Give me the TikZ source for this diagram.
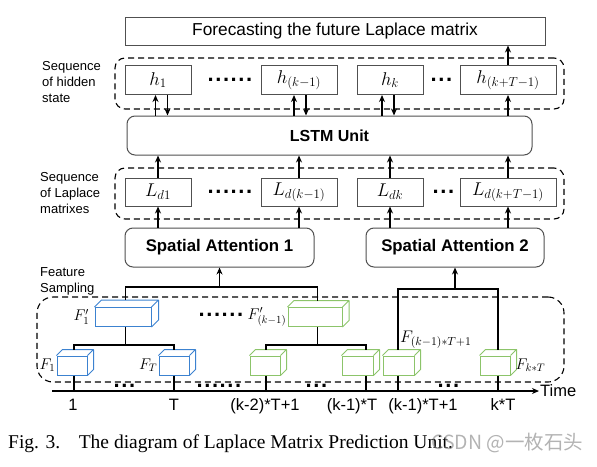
\documentclass[tikz,border=0pt]{standalone}
\usepackage{fix-cm}
\usepackage{fontspec}
\setmainfont{Liberation Serif}
\setsansfont{Liberation Sans}
\newfontfamily\cjkfont{Noto Sans CJK SC}
\usetikzlibrary{arrows.meta}
\definecolor{boxgray}{HTML}{505050}
\definecolor{cblue}{HTML}{3C82D0}
\definecolor{cgreen}{HTML}{8CC46A}
\newcommand{\dotsix}{.\kern1.6pt.\kern1.6pt.\kern1.6pt.\kern1.6pt.\kern1.6pt.}
\newcommand{\dotthree}{.\kern1.6pt.\kern1.6pt.}
% name, cx, cy, w, h, colour, depth
\newcommand{\cuboid}[7]{%
  \node[cubef, draw=#6, minimum width=#4pt, minimum height=#5pt] (#1) at (#2,#3) {};
  \draw[#6, line width=1pt, line join=round]
    (#1.north west) -- ++(#7pt,#7pt) -- ([shift={(#7pt,#7pt)}]#1.north east)
    -- ([shift={(#7pt,#7pt)}]#1.south east) -- (#1.south east)
    (#1.north east) -- ([shift={(#7pt,#7pt)}]#1.north east);
}
\begin{document}
\begin{tikzpicture}[x=1pt,y=-1pt, font=\sffamily,
  box/.style={draw=boxgray, line width=1pt, inner sep=0pt},
  rbox/.style={box, rounded corners=8pt},
  seqbox/.style={draw, dash pattern=on 6pt off 4pt, line width=1.1pt, inner sep=0pt},
  arr/.style={line width=1.6pt, -{Stealth[length=7pt,width=6pt]}},
  tree/.style={line width=1.6pt, line join=miter},
  cubef/.style={line width=1pt, inner sep=0pt},
  mathlab/.style={inner sep=0pt, font=\fontsize{18.5}{18.5}\selectfont},
  flab/.style={inner sep=0pt, font=\fontsize{15.5}{15.5}\selectfont},
  sidelab/.style={anchor=west, align=left, inner sep=0pt, font=\sffamily\fontsize{13}{16}\selectfont},
  ticklab/.style={anchor=base, inner sep=0pt, font=\sffamily\fontsize{16.5}{17}\selectfont},
  dotsn/.style={anchor=base west, inner sep=0pt, font=\sffamily\bfseries\fontsize{22}{22}\selectfont}]
\useasboundingbox (0,0) rectangle (597,466);

% dashed group frames
\node[seqbox, rounded corners=10pt, minimum width=449pt, minimum height=51pt] (hidseq) at (339.5,83.5) {};
\node[seqbox, rounded corners=10pt, minimum width=449pt, minimum height=51pt] (lapseq) at (339.5,193.5) {};
\node[seqbox, rounded corners=16pt, minimum width=527pt, minimum height=85pt] (featseq) at (300.5,339.5) {};

% top box
\node[box, minimum width=420pt, minimum height=28pt, font=\sffamily\fontsize{17.3}{17.3}\selectfont] (top) at (335,31) {Forecasting the future Laplace matrix};

% hidden states
\node[box, minimum width=66pt, minimum height=29pt, mathlab] (h1) at (158,80) {$h_1$};
\node[box, minimum width=76pt, minimum height=29pt, mathlab] (hk1) at (299,80) {$h_{(k-1)}$};
\node[box, minimum width=66pt, minimum height=29pt, mathlab] (hk) at (390,80) {$h_k$};
\node[box, minimum width=96pt, minimum height=29pt, mathlab] (hkT) at (508,80) {$h_{(k+T-1)}$};
\node[dotsn] (hd1) at (207.4,81.5) {\dotsix};
\node[dotsn] (hd2) at (430.4,81.5) {\dotthree};

% LSTM
\node[rbox, minimum width=405pt, minimum height=39pt, font=\sffamily\bfseries\fontsize{16}{16}\selectfont] (lstm) at (329.5,135.5) {LSTM Unit};

% Laplace matrices
\node[box, minimum width=66pt, minimum height=28pt, mathlab] (Ld1) at (158,192) {$L_{d1}$};
\node[box, minimum width=76pt, minimum height=28pt, mathlab] (Ldk1) at (299,192) {$L_{d(k-1)}$};
\node[box, minimum width=66pt, minimum height=28pt, mathlab] (Ldk) at (390,192) {$L_{dk}$};
\node[box, minimum width=96pt, minimum height=28pt, mathlab] (LdkT) at (508,192) {$L_{d(k+T-1)}$};
\node[dotsn] (ld1) at (207.4,193.5) {\dotsix};
\node[dotsn] (ld2) at (432.4,193.5) {\dotthree};

% spatial attention
\node[rbox, minimum width=189pt, minimum height=39pt, font=\sffamily\bfseries\fontsize{16.8}{17}\selectfont] (SA1) at (219.5,247.5) {Spatial Attention 1};
\node[rbox, minimum width=178pt, minimum height=39pt, font=\sffamily\bfseries\fontsize{16.8}{17}\selectfont] (SA2) at (455,247.5) {Spatial Attention 2};

% side labels
\node[sidelab] (lab1) at (42,82) {Sequence\\of hidden\\state};
\node[sidelab] (lab2) at (40,193) {Sequence\\of Laplace\\matrixes};
\node[sidelab] (lab3) at (40,281) {Feature\\Sampling};

% arrows LSTM <-> hidden
\foreach \n/\s in {h1/3.5, hk1/1, hk/-2} {
  \coordinate (\n-up) at ([xshift=\s pt-6pt]\n.south);
  \coordinate (\n-dn) at ([xshift=\s pt+6pt]\n.south);
  \draw[arr] (\n-up |- lstm.north) -- (\n-up);
  \draw[arr] (\n-dn) -- (\n-dn |- lstm.north);
}
\draw[arr] (hkT.south |- lstm.north) -- (hkT.south);
\draw[arr] (hkT.north) -- (hkT.north |- top.south);

% arrows Laplace -> LSTM and SA -> Laplace
\foreach \n in {Ld1, Ldk1, Ldk, LdkT} {
  \draw[arr] (\n.north) -- (\n.north |- lstm.south);
}
\draw[arr] (SA1.north -| Ld1) -- (Ld1.south);
\draw[arr] (SA1.north -| Ldk1) -- (Ldk1.south);
\draw[arr] (SA2.north -| Ldk) -- (Ldk.south);
\draw[arr] (SA2.north -| LdkT) -- (LdkT.south);

% cuboids
\cuboid{F1p}{123}{317}{56}{19}{cblue}{7}
\cuboid{Fkp}{315}{317}{54}{19}{cgreen}{6.5}
\cuboid{F1}{72}{365.5}{30}{19}{cblue}{6}
\cuboid{FT}{174}{365.5}{30}{19}{cblue}{6}
\cuboid{G1}{265}{365.5}{30}{19}{cgreen}{6}
\cuboid{G2}{357.5}{365.5}{31}{19}{cgreen}{6}
\cuboid{G3}{398.5}{365.5}{31}{19}{cgreen}{6}
\cuboid{G4}{495}{365.5}{30}{19}{cgreen}{6}

\foreach \n/\o/\d in {F1p/2.5/7, Fkp/2.5/6.5, F1/2/6, FT/0/6, G1/1/6, G2/8.5/6, G3/-0.5/6, G4/3/6} {
  \coordinate (\n-t) at ([xshift=\o pt, yshift=\d pt]\n.north);
  \coordinate (\n-b) at ([xshift=\o pt]\n.south);
}

% cuboid labels
\node[flab, anchor=east] (lF1p) at ([xshift=-5pt]F1p.west) {$F_1'$};
\node[flab, anchor=east] (lFkp) at ([xshift=-1pt]Fkp.west) {$F'_{(k-1)}$};
\node[flab, anchor=east] (lF1) at ([xshift=-1pt]F1.west) {$F_1$};
\node[flab, anchor=east] (lFT) at ([xshift=-1pt]FT.west) {$F_T$};
\node[inner sep=0pt, anchor=west, font=\fontsize{16.8}{17}\selectfont] (lG3) at ([xshift=2pt, yshift=10pt]G3-t) {$F_{(k-1)*T+1}$};
\node[flab, anchor=west] (lG4) at ([xshift=5pt]G4.east) {$F_{k*T}$};
\node[dotsn] (fd) at (198.4,316.5) {\dotsix};

% trees
\coordinate (barA) at (0,287);
\coordinate (barB) at (0,289);
\coordinate (barC) at (0,345);
\draw[tree] (F1p-t) -- (F1p-t |- barA) -- (Fkp-t |- barA) -- (Fkp-t);
\draw[arr] (SA1.south |- barA) -- (SA1.south);
\draw[tree] (G3-t) -- (G3-t |- barB) -- (G4-t |- barB) -- (G4-t);
\draw[arr] (SA2.south |- barB) -- (SA2.south);
\draw[tree] (F1-t) -- (F1-t |- barC) -- (FT-t |- barC) -- (FT-t);
\draw[tree] (F1p-b) -- (F1p-b |- barC);
\draw[tree] (G1-t) -- (G1-t |- barC) -- (G2-t |- barC) -- (G2-t);
\draw[tree] (Fkp-b) -- (Fkp-b |- barC);

% time axis
\coordinate (ax0) at (52,391);
\coordinate (ax1) at (539,391);
\draw[arr] (ax0) -- (ax1);
\node[anchor=west, inner sep=0pt, font=\sffamily\fontsize{16.5}{17}\selectfont] (time) at ([xshift=1pt]ax1) {Time};
\foreach \n in {F1, FT, G1, G2, G3, G4} {
  \draw[tree] (\n-b) -- (\n-b |- ax0);
}
\node[dotsn] (ad1) at (113.4,387.5) {\dotthree};
\node[dotsn] (ad2) at (196.4,387.5) {\dotsix};
\node[dotsn] (ad3) at (305.4,387.5) {\dotthree};
\node[dotsn] (ad4) at (437.4,387.5) {\dotthree};

\node[ticklab] (t1) at (73,410) {1};
\node[ticklab] (t2) at (174,410) {T};
\node[ticklab] (t3) at (265,410) {(k-2)*T+1};
\node[ticklab] (t4) at (352,410) {(k-1)*T};
\node[ticklab] (t5) at (423,410) {(k-1)*T+1};
\node[ticklab] (t6) at (503,410) {k*T};

% caption and watermark
\node[anchor=base west, inner sep=0pt, font=\rmfamily\fontsize{19.5}{20}\selectfont] (cap) at (8,448) {Fig. 3.\hspace{18.6pt}The diagram of Laplace Matrix Prediction Unit.};
\node[anchor=base west, inner sep=0pt, text=gray, opacity=0.6, font=\cjkfont\fontsize{19.5}{20}\selectfont] (wm) at (431,449) {CSDN @一枚石头};
\end{tikzpicture}
\end{document}
